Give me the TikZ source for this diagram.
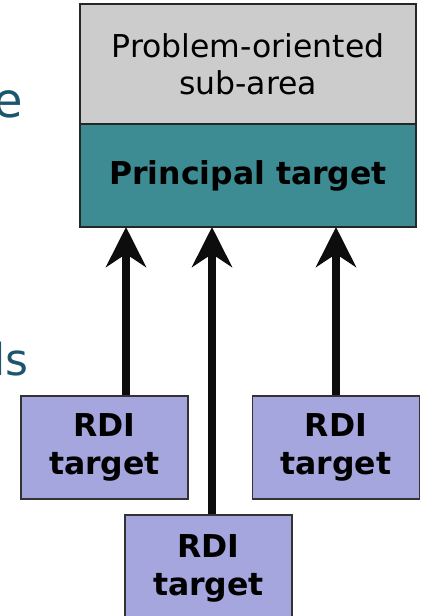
\documentclass[tikz,border=0pt]{standalone}
\usepackage{fontspec}
\setmainfont{DejaVu Sans}
\usepackage{tikz}
\usetikzlibrary{arrows.meta}

\definecolor{areagray}{HTML}{CCCCCC}
\definecolor{goalteal}{HTML}{3D8C93}
\definecolor{rdiblue}{HTML}{A6A6DF}
\definecolor{slideteal}{HTML}{1B556E}

\tikzset{
	goalbox/.style={draw=black!85, line width=1.5pt, minimum width=336pt, inner sep=0pt, align=center, font=\fontsize{31.5}{37}\selectfont},
	rdibox/.style={draw=black!80, line width=1.5pt, fill=rdiblue, minimum width=167pt, minimum height=103pt, inner sep=0pt, align=center, font=\fontsize{31.5}{38}\selectfont\bfseries},
	uparrow/.style={line width=8pt, draw=black!95, -{Stealth[length=40pt,width=40pt,inset=13pt]}},
	slidetext/.style={text=slideteal, inner sep=0pt, anchor=base east}
}

\begin{document}
\begin{tikzpicture}[x=1pt,y=-1pt]
	\clip (0,0) rectangle (423,616);
	\node[slidetext, font=\fontsize{48}{56}\selectfont] (titleend) at (23,117) {e};
	\node[slidetext, font=\fontsize{44}{50}\selectfont] (bulletend) at (29,375) {ls};
	\node[goalbox, fill=areagray, minimum height=120pt] (subarea) at (248,64) {Problem-oriented\\sub-area};
	\node[goalbox, fill=goalteal, minimum height=103pt, font=\fontsize{31.5}{37}\selectfont\bfseries] (principal) at (248,175.5) {Principal target};
	\node[rdibox] (rdiL) at (104.5,447.5) {RDI\\target};
	\node[rdibox] (rdiR) at (336,447.5) {RDI\\target};
	\node[rdibox, minimum height=106pt] (rdiM) at (208.5,568) {RDI\\target};
	\coordinate (inL) at (126,227);
	\coordinate (inM) at (212,227);
	\coordinate (inR) at (336,227);
	\foreach \s/\t in {rdiL/inL,rdiM/inM,rdiR/inR}
	{
		\draw[uparrow] (\s.north -| \t) -- (\t);
	}
\end{tikzpicture}
\end{document}
